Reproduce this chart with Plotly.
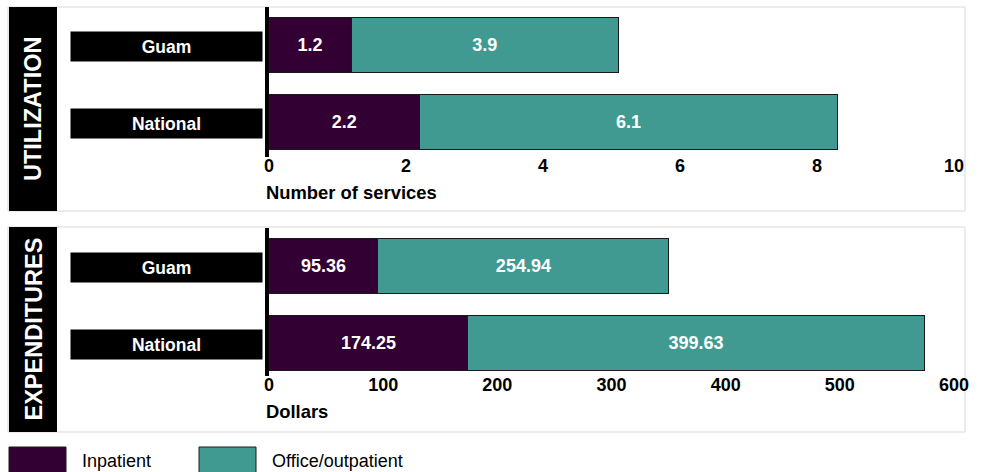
import plotly.graph_objects as go

categories = ["Guam", "National"]
series_names = ["Inpatient", "Office/outpatient"]
util_inpatient = [1.2, 2.2]
util_office = [3.9, 6.1]
exp_inpatient = [95.36, 174.25]
exp_office = [254.94, 399.63]
util_ticks = [0, 2, 4, 6, 8, 10]
exp_ticks = [0, 100, 200, 300, 400, 500, 600]
panel_titles = ["UTILIZATION", "EXPENDITURES"]
axis_titles = ["Number of services", "Dollars"]
colors = ["#330033", "#409a92"]

W, H = 982, 472
FONT = "Liberation Sans, Arial, sans-serif"


def fx(px):
    return px / W


def fy(py):
    return 1 - py / H


fig = go.Figure()

panels = [
    dict(data=[util_inpatient, util_office], ticks=util_ticks, xa="x", ya="y",
         top=7, bottom=211, dom_top=7, dom_bot=157, center0=44.5, title_y=192),
    dict(data=[exp_inpatient, exp_office], ticks=exp_ticks, xa="x2", ya="y2",
         top=227, bottom=432, dom_top=228, dom_bot=376, center0=265.5, title_y=411),
]
step = 77.0

shapes = []
annotations = []
for i, p in enumerate(panels):
    for s, (name, vals) in enumerate(zip(series_names, p["data"])):
        fig.add_trace(go.Bar(
            x=vals, y=categories, orientation="h", name=name,
            marker=dict(color=colors[s], line=dict(color="#1a1a1a", width=1)),
            width=55 / step,
            text=[f"{v:g}" for v in vals], textposition="inside",
            insidetextanchor="middle",
            textfont=dict(color="white", size=18, family=FONT, weight="bold"),
            xaxis=p["xa"], yaxis=p["ya"], showlegend=False, hoverinfo="skip",
        ))
    # panel border
    shapes.append(dict(type="rect", xref="paper", yref="paper",
                       x0=fx(8), x1=fx(965), y0=fy(p["bottom"]), y1=fy(p["top"]),
                       line=dict(color="#d9d9d9", width=1), fillcolor="rgba(0,0,0,0)",
                       layer="below"))
    # black side strip
    shapes.append(dict(type="rect", xref="paper", yref="paper",
                       x0=fx(9), x1=fx(57), y0=fy(p["bottom"]), y1=fy(p["top"]),
                       line=dict(width=0), fillcolor="black", layer="below"))
    annotations.append(dict(text=panel_titles[i], xref="paper", yref="paper",
                            x=fx(33), y=fy((p["top"] + p["bottom"]) / 2),
                            xanchor="center", yanchor="middle",
                            showarrow=False, textangle=-90,
                            font=dict(color="white", size=23.5, family=FONT, weight="bold")))
    # category label boxes
    for c in categories:
        annotations.append(dict(text=c, xref="paper", yref=p["ya"], x=fx(166.5), y=c,
                                xanchor="center", yanchor="middle",
                                yshift=-2, showarrow=False, width=191, height=29,
                                bgcolor="black", borderpad=0,
                                font=dict(color="white", size=17.5, family=FONT, weight="bold")))
    # axis title
    annotations.append(dict(text=axis_titles[i], xref="paper", yref="paper",
                            x=fx(264), y=fy(p["title_y"]), xanchor="left", yanchor="middle",
                            showarrow=False,
                            font=dict(color="black", size=18.4, family=FONT, weight="bold")))

# legend
legend_x = [9, 199]
for s, name in enumerate(series_names):
    shapes.append(dict(type="rect", xref="paper", yref="paper",
                       x0=fx(legend_x[s]), x1=fx(legend_x[s] + 57), y0=fy(480), y1=fy(447),
                       line=dict(color="#1a1a1a", width=1), fillcolor=colors[s]))
    annotations.append(dict(text=name, xref="paper", yref="paper",
                            x=fx(legend_x[s] + 71), y=fy(461), xanchor="left", yanchor="middle",
                            showarrow=False,
                            font=dict(color="black", size=18, family=FONT)))

def yrange(p):
    return [(p["dom_bot"] - p["center0"]) / step, (p["dom_top"] - p["center0"]) / step]

xdom = [fx(269), fx(954)]
common_x = dict(showgrid=False, zeroline=False, showline=False, ticks="",
                automargin=False,
                tickfont=dict(color="black", size=18, family=FONT, weight="bold"),
                domain=xdom, tickmode="array", anchor="free")
common_y = dict(showgrid=False, zeroline=False, showline=True, linecolor="black",
                automargin=False,
                linewidth=4, showticklabels=False, ticks="", type="category")

fig.update_layout(
    width=W, height=H, autosize=False,
    margin=dict(l=0, r=0, t=0, b=0, pad=0, autoexpand=False),
    paper_bgcolor="white", plot_bgcolor="white",
    barmode="stack",
    showlegend=False,
    xaxis=dict(**common_x, range=[0, 10], tickvals=util_ticks,
               position=fy(panels[0]["dom_bot"] - 4)),
    yaxis=dict(**common_y, range=yrange(panels[0]),
               domain=[fy(panels[0]["dom_bot"]), fy(panels[0]["dom_top"])], anchor="x"),
    xaxis2=dict(**common_x, range=[0, 600], tickvals=exp_ticks,
                position=fy(panels[1]["dom_bot"] - 4)),
    yaxis2=dict(**common_y, range=yrange(panels[1]),
                domain=[fy(panels[1]["dom_bot"]), fy(panels[1]["dom_top"])], anchor="x2"),
    shapes=shapes,
    annotations=annotations,
)

fig.write_html(
    "out.html",
    config={"displayModeBar": False},
    post_script="document.body.style.margin='0';document.body.style.overflow='hidden';",
)
